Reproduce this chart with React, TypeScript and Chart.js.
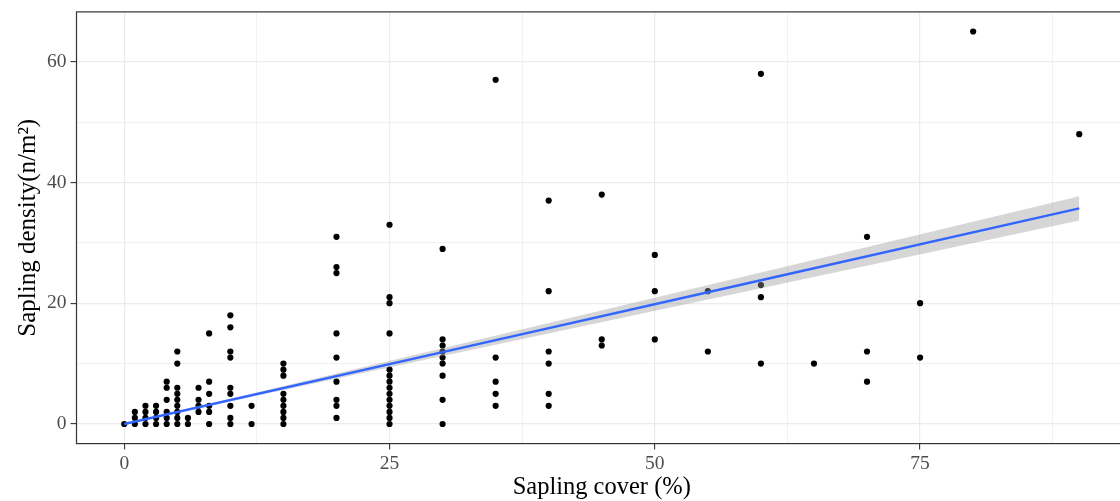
import React, { useEffect, useRef } from "react";
import { Chart, registerables } from "chart.js";

Chart.register(...registerables);

// Sapling cover (%) of each plot
const coverX = [
  0,
  1, 1, 1,
  2, 2, 2, 2,
  3, 3, 3, 3,
  4, 4, 4, 4, 4, 4,
  5, 5, 5, 5, 5, 5, 5, 5, 5,
  6, 6,
  7, 7, 7, 7,
  8, 8, 8, 8, 8, 8,
  10, 10, 10, 10, 10, 10, 10, 10, 10,
  12, 12,
  15, 15, 15, 15, 15, 15, 15, 15, 15,
  20, 20, 20, 20, 20, 20, 20, 20, 20,
  25, 25, 25, 25, 25, 25, 25, 25, 25, 25, 25, 25, 25, 25,
  30, 30, 30, 30, 30, 30, 30, 30, 30,
  35, 35, 35, 35, 35,
  40, 40, 40, 40, 40, 40,
  45, 45, 45,
  50, 50, 50,
  55, 55,
  60, 60, 60, 60,
  65,
  70, 70, 70,
  75, 75,
  80,
  90,
];

// Sapling density (n/m²) of each plot
const densityY = [
  0,
  0, 1, 2,
  0, 1, 2, 3,
  0, 1, 2, 3,
  0, 1, 2, 4, 6, 7,
  0, 1, 2, 3, 4, 5, 6, 10, 12,
  0, 1,
  2, 3, 4, 6,
  0, 2, 3, 5, 7, 15,
  0, 1, 3, 5, 6, 11, 12, 16, 18,
  0, 3,
  0, 1, 2, 3, 4, 5, 8, 9, 10,
  1, 3, 4, 7, 11, 15, 25, 26, 31,
  0, 1, 2, 3, 4, 5, 6, 7, 8, 9, 15, 20, 21, 33,
  0, 4, 8, 10, 11, 12, 13, 14, 29,
  3, 5, 7, 11, 57,
  3, 5, 10, 12, 22, 37,
  13, 14, 38,
  14, 22, 28,
  12, 22,
  10, 21, 23, 58,
  10,
  7, 12, 31,
  11, 20,
  65,
  48,
];

// fitted line and its confidence band
const fitX = [0, 30, 60, 90];
const fitY = [0, 11.9, 23.8, 35.7];
const bandLow = [0, 11.25, 22.5, 33.7];
const bandHigh = [0, 12.55, 25.1, 37.7];

// axis ticks
const xMajorTicks = [0, 25, 50, 75];
const xMinorTicks = [12.5, 37.5, 62.5, 87.5];
const yMajorTicks = [0, 20, 40, 60];
const yMinorTicks = [10, 30, 50];

const X_MIN = -4.5;
const X_MAX = 94.5;
const Y_MIN = -3.25;
const Y_MAX = 68.25;

const FONT = "'Liberation Serif', 'Times New Roman', serif";

const borderPlugin = {
  id: "panelBorder",
  afterDatasetsDraw(chart: any) {
    const { ctx, chartArea } = chart;
    ctx.save();
    ctx.strokeStyle = "#333333";
    ctx.lineWidth = 1.2;
    ctx.strokeRect(
      chartArea.left,
      chartArea.top,
      chartArea.right - chartArea.left,
      chartArea.bottom - chartArea.top
    );
    ctx.restore();
  },
};

export default function App() {
  const canvasRef = useRef<HTMLCanvasElement | null>(null);

  useEffect(() => {
    if (!canvasRef.current) return;
    const isMajorX = (v: number) => xMajorTicks.includes(v);
    const isMajorY = (v: number) => yMajorTicks.includes(v);

    const chart = new Chart(canvasRef.current, {
      type: "scatter",
      data: {
        datasets: [
          {
            type: "line",
            label: "fit",
            data: fitX.map((x, i) => ({ x, y: fitY[i] })),
            borderColor: "#3366FF",
            borderWidth: 2.4,
            pointRadius: 0,
            fill: false,
            tension: 0,
          } as any,
          {
            type: "line",
            label: "low",
            data: fitX.map((x, i) => ({ x, y: bandLow[i] })),
            borderColor: "rgba(0,0,0,0)",
            borderWidth: 0,
            pointRadius: 0,
            fill: false,
          } as any,
          {
            type: "line",
            label: "high",
            data: fitX.map((x, i) => ({ x, y: bandHigh[i] })),
            borderColor: "rgba(0,0,0,0)",
            borderWidth: 0,
            pointRadius: 0,
            fill: "-1",
            backgroundColor: "rgba(153,153,153,0.4)",
          } as any,
          {
            type: "scatter",
            label: "plots",
            data: coverX.map((x, i) => ({ x, y: densityY[i] })),
            backgroundColor: "#000000",
            borderWidth: 0,
            pointRadius: 3.1,
          } as any,
        ],
      },
      options: {
        responsive: false,
        animation: false,
        devicePixelRatio: 1,
        layout: { padding: { top: 11.9, right: 13, left: 0, bottom: 0 } },
        plugins: {
          legend: { display: false },
          tooltip: { enabled: false },
        },
        scales: {
          x: {
            type: "linear",
            min: X_MIN,
            max: X_MAX,
            afterBuildTicks: (scale: any) => {
              scale.ticks = [...xMajorTicks, ...xMinorTicks]
                .sort((a, b) => a - b)
                .map((v) => ({ value: v }));
            },
            afterFit: (scale: any) => {
              scale.height = 57.4;
              scale.paddingLeft = 0;
              scale.paddingRight = 0;
              scale.paddingTop = 0;
              scale.paddingBottom = 0;
            },
            border: { display: false },
            grid: {
              color: "#EBEBEB",
              lineWidth: (ctx: any) => (isMajorX(ctx.tick.value) ? 1.2 : 0.7),
              tickColor: (ctx: any) =>
                isMajorX(ctx.tick.value) ? "#333333" : "rgba(0,0,0,0)",
              tickLength: 6,
              tickWidth: 1.1,
              drawTicks: true,
            },
            ticks: {
              autoSkip: false,
              maxRotation: 0,
              padding: 3,
              color: "#4D4D4D",
              font: { family: FONT, size: 19.5 },
              callback: (v: any) => (isMajorX(Number(v)) ? String(v) : ""),
            },
            title: {
              display: true,
              text: "Sapling cover (%)",
              color: "#000000",
              font: { family: FONT, size: 24.5, lineHeight: 1 },
              padding: { top: 0, bottom: 1 },
            },
          },
          y: {
            type: "linear",
            min: Y_MIN,
            max: Y_MAX,
            afterBuildTicks: (scale: any) => {
              scale.ticks = [...yMajorTicks, ...yMinorTicks]
                .sort((a, b) => a - b)
                .map((v) => ({ value: v }));
            },
            afterFit: (scale: any) => {
              scale.width = 76.5;
              scale.paddingLeft = 0;
              scale.paddingRight = 0;
              scale.paddingTop = 0;
              scale.paddingBottom = 0;
            },
            border: { display: false },
            grid: {
              color: "#EBEBEB",
              lineWidth: (ctx: any) => (isMajorY(ctx.tick.value) ? 1.2 : 0.7),
              tickColor: (ctx: any) =>
                isMajorY(ctx.tick.value) ? "#333333" : "rgba(0,0,0,0)",
              tickLength: 6,
              tickWidth: 1.1,
              drawTicks: true,
            },
            ticks: {
              autoSkip: false,
              padding: 4,
              color: "#4D4D4D",
              font: { family: FONT, size: 19.5 },
              callback: (v: any) => (isMajorY(Number(v)) ? String(v) : ""),
            },
            title: {
              display: true,
              text: "Sapling density(n/m²)",
              color: "#000000",
              font: { family: FONT, size: 25, lineHeight: 1 },
              padding: { top: 15.5, bottom: 0 },
            },
          },
        },
      },
      plugins: [borderPlugin],
    } as any);

    return () => chart.destroy();
  }, []);

  return (
    <div
      style={{
        position: "fixed",
        left: 0,
        top: 0,
        width: 1120,
        height: 501,
        overflow: "hidden",
        background: "#ffffff",
      }}
    >
      <canvas
        ref={canvasRef}
        width={1140}
        height={501}
        style={{ width: 1140, height: 501, display: "block" }}
      />
    </div>
  );
}
